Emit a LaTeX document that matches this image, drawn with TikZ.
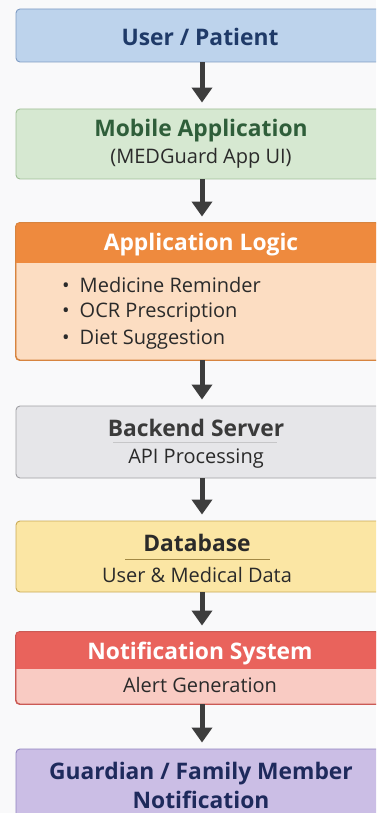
\documentclass[tikz,border=0pt]{standalone}
\usepackage{fontspec}
\setmainfont{Open Sans}
\usetikzlibrary{arrows.meta}
\definecolor{bg}{HTML}{F9F9FA}
\definecolor{bluef}{HTML}{BDD3EC}\definecolor{blued}{HTML}{7F9CC4}\definecolor{bluet}{HTML}{1F3A68}
\definecolor{greenf}{HTML}{D6E8D1}\definecolor{greend}{HTML}{9FC096}\definecolor{greent}{HTML}{2F5E3A}
\definecolor{orangeh}{HTML}{EE8A3E}\definecolor{orangeb}{HTML}{FCDDC2}\definecolor{oranged}{HTML}{D7843F}
\definecolor{grayf}{HTML}{E6E6E9}\definecolor{grayd}{HTML}{A0A0A4}\definecolor{grayt}{HTML}{3A3A3A}
\definecolor{yellowf}{HTML}{FBE6A4}\definecolor{yellowd}{HTML}{C9AA55}
\definecolor{redh}{HTML}{E9635C}\definecolor{redb}{HTML}{F9CBC3}\definecolor{redd}{HTML}{CB5A55}
\definecolor{purplef}{HTML}{CBBEE5}\definecolor{purpled}{HTML}{9283C0}\definecolor{purplet}{HTML}{1E2A5C}
\definecolor{arrowc}{HTML}{3D3D3D}
\definecolor{bodyt}{HTML}{2A2A2A}
\tikzset{
  x=1pt,y=-1pt,
  box/.style={rounded corners=4pt, line width=0.9pt, minimum width=372pt, inner sep=0pt},
  ttl/.style={font=\bfseries\fontsize{22.8}{27}\selectfont, inner sep=0pt},
  sub/.style={font=\fontsize{20}{24}\selectfont, inner sep=0pt, text=bodyt},
  flow/.style={draw=arrowc, line width=5pt, -{Triangle[width=20pt,length=15pt]}, shorten >=6pt},
}
\newcommand{\blt}{\textbullet\hspace{10pt}}
\begin{document}
\begin{tikzpicture}
\useasboundingbox (0,0) rectangle (376,813);
\clip (0,0) rectangle (376,813);
\fill[bg] (0,0) rectangle (376,813);
% boxes
\node[box, draw=blued, fill=bluef, minimum height=53pt] (b1) at (202,35.5) {};
\node[box, draw=greend, fill=greenf, minimum height=70pt] (b2) at (202,144) {};
\node[box, draw=oranged, fill=orangeb, minimum height=137pt] (b3) at (202,291.5) {};
\begin{scope}
\clip[rounded corners=4pt] (b3.south west) rectangle (b3.north east);
\fill[orangeh] (b3.north west) rectangle ([yshift=-40pt]b3.north east);
\end{scope}
\draw[rounded corners=4pt, line width=0.9pt, draw=oranged] (b3.south west) rectangle (b3.north east);
\node[box, draw=grayd, fill=grayf, minimum height=72pt] (b4) at (202,442) {};
\node[box, draw=yellowd, fill=yellowf, minimum height=71pt] (b5) at (202,556.5) {};
\node[box, draw=redd, fill=redb, minimum height=72pt] (b6) at (202,668) {};
\begin{scope}
\clip[rounded corners=4pt] (b6.south west) rectangle (b6.north east);
\fill[redh] (b6.north west) rectangle ([yshift=-37pt]b6.north east);
\end{scope}
\draw[rounded corners=4pt, line width=0.9pt, draw=redd] (b6.south west) rectangle (b6.north east);
\node[box, draw=purpled, fill=purplef, minimum height=81pt] (b7) at (202,789.5) {};
% texts
\node[ttl, text=bluet] (t1) at (200,37) {User / Patient};
\node[ttl, text=greent] (t2) at (201,131) {Mobile Application};
\node[sub] (s2) at (201,158) {(MEDGuard App UI)};
\node[ttl, text=white] (t3) at (201,245) {Application Logic};
\node[sub, anchor=west] (l1) at (62,285) {\blt Medicine Reminder};
\node[sub, anchor=west] (l2) at (62,313) {\blt OCR Prescription};
\node[sub, anchor=west] (l3) at (62,340) {\blt Diet Suggestion};
\node[ttl, text=grayt] (t4) at (196,428) {Backend Server};
\draw[draw=grayd!60, line width=0.6pt] (113,442) -- (277,442);
\node[sub] (s4) at (196,459) {API Processing};
\node[ttl, text=bodyt] (t5) at (197,543) {Database};
\draw[draw=yellowd!80!black, line width=0.6pt] (125,559) -- (270,559);
\node[sub] (s5) at (197,575) {User \& Medical Data};
\node[ttl, text=white] (t6) at (200,654) {Notification System};
\node[sub] (s6) at (200,685) {Alert Generation};
\node[ttl, text=purplet] (t7) at (201,774) {Guardian / Family Member};
\node[ttl, text=purplet] (t7b) at (201,800) {Notification};
% arrows
\draw[flow] (b1.south) -- (b2.north);
\draw[flow] (b2.south) -- (b3.north);
\draw[flow] (b3.south) -- (b4.north);
\draw[flow] (b4.south) -- (b5.north);
\draw[flow] (b5.south) -- (b6.north);
\draw[flow] (b6.south) -- (b7.north);
\end{tikzpicture}
\end{document}
